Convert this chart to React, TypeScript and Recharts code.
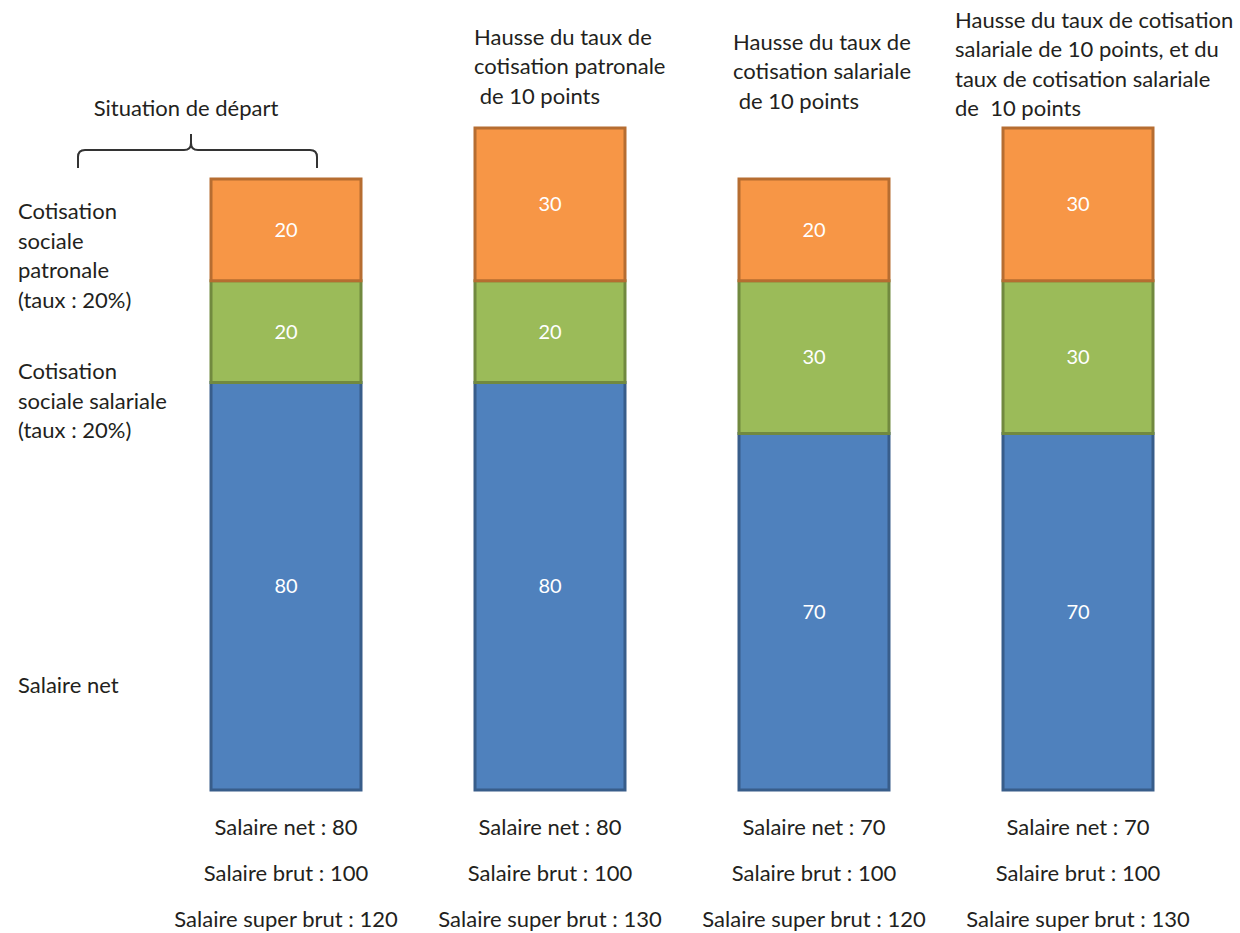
import { Bar, BarChart, LabelList, XAxis, YAxis } from "recharts";

// Données
const categories = ["Situation de départ", "Hausse patronale", "Hausse salariale", "Hausse des deux"];
const salaireNet = [80, 80, 70, 70];
const cotisationSalariale = [20, 20, 30, 30];
const cotisationPatronale = [20, 30, 20, 30];

const titles = [
  ["Situation de départ"],
  ["Hausse du taux de", "cotisation patronale", " de 10 points"],
  ["Hausse du taux de", "cotisation salariale", " de 10 points"],
  [
    "Hausse du taux de cotisation",
    "salariale de 10 points, et du",
    "taux de cotisation salariale",
    "de  10 points",
  ],
];

const data = categories.map((name, i) => ({
  name,
  net: salaireNet[i],
  salariale: cotisationSalariale[i],
  patronale: cotisationPatronale[i],
}));

// mise en page des titres (décalage par rapport au centre de la barre, y de la 1re ligne)
const TITLE_LAYOUT = [
  { dx: -100, y: 108, anchor: "middle" },
  { dx: -76, y: 37, anchor: "start" },
  { dx: -81, y: 42, anchor: "start" },
  { dx: -123, y: 20, anchor: "start" },
];

const FONT = "Lato, 'Open Sans', sans-serif";
const TEXT = "#231f20";
const FS = 22;
const LINE_H = 29.5;

function TopTick(props: any) {
  const { x, payload } = props;
  const i = payload.index;
  const lay = TITLE_LAYOUT[i];
  return (
    <g>
      {titles[i].map((line, k) => (
        <text
          key={k}
          x={x + lay.dx}
          y={lay.y + k * LINE_H}
          dy="0.35em"
          textAnchor={lay.anchor}
          fontSize={FS}
          fill={TEXT}
          style={{ whiteSpace: "pre" }}
        >
          {line}
        </text>
      ))}
    </g>
  );
}

function BottomTick(props: any) {
  const { x, y, payload } = props;
  const i = payload.index;
  const brut = salaireNet[i] + cotisationSalariale[i];
  const superBrut = brut + cotisationPatronale[i];
  const lines = [
    `Salaire net : ${salaireNet[i]}`,
    `Salaire brut : ${brut}`,
    `Salaire super brut : ${superBrut}`,
  ];
  return (
    <g>
      {lines.map((line, k) => (
        <text key={k} x={x} y={y + 29 + k * 46} dy="0.35em" textAnchor="middle" fontSize={FS} fill={TEXT}>
          {line}
        </text>
      ))}
    </g>
  );
}

const sideLabels = [
  { top: 196, lines: ["Cotisation", "sociale", "patronale", "(taux : 20%)"] },
  { top: 356, lines: ["Cotisation", "sociale salariale", "(taux : 20%)"] },
  { top: 670, lines: ["Salaire net"] },
];

export default function App() {
  return (
    <div style={{ position: "absolute", left: 0, top: 0, width: 1240, height: 933, background: "#fff", fontFamily: FONT }}>
      <BarChart
        width={1240}
        height={933}
        data={data}
        margin={{ top: 8, right: 30, bottom: 13, left: 154 }}
        style={{ fontFamily: FONT }}
      >
        <XAxis dataKey="name" height={130} axisLine={false} tickLine={false} tick={<BottomTick />} interval={0} />
        <XAxis
          xAxisId="top"
          dataKey="name"
          orientation="top"
          height={120}
          axisLine={false}
          tickLine={false}
          tick={<TopTick />}
          interval={0}
        />
        <YAxis hide domain={[0, 130]} />
        <Bar dataKey="net" stackId="s" barSize={150} fill="#4F81BD" stroke="#385D8A" strokeWidth={3} isAnimationActive={false}>
          <LabelList dataKey="net" position="center" fill="#fff" fontSize={20} />
        </Bar>
        <Bar dataKey="salariale" stackId="s" barSize={150} fill="#9BBB59" stroke="#71893F" strokeWidth={3} isAnimationActive={false}>
          <LabelList dataKey="salariale" position="center" fill="#fff" fontSize={20} />
        </Bar>
        <Bar dataKey="patronale" stackId="s" barSize={150} fill="#F79646" stroke="#B66D31" strokeWidth={3} isAnimationActive={false}>
          <LabelList dataKey="patronale" position="center" fill="#fff" fontSize={20} />
        </Bar>
      </BarChart>

      <svg width={1240} height={933} style={{ position: "absolute", left: 0, top: 0, pointerEvents: "none" }}>
        <path
          d="M78,168 L78,157 Q78,150 85,150 L184,150 Q191,150 191,143 L191,134 M191,143 Q191,150 198,150 L310,150 Q317,150 317,157 L317,168"
          fill="none"
          stroke="#333"
          strokeWidth={2}
        />
      </svg>

      {sideLabels.map((s, i) => (
        <div
          key={i}
          style={{
            position: "absolute",
            left: 18,
            top: s.top,
            fontSize: FS,
            lineHeight: "29.5px",
            color: TEXT,
            whiteSpace: "nowrap",
          }}
        >
          {s.lines.map((l, k) => (
            <div key={k}>{l}</div>
          ))}
        </div>
      ))}
    </div>
  );
}
